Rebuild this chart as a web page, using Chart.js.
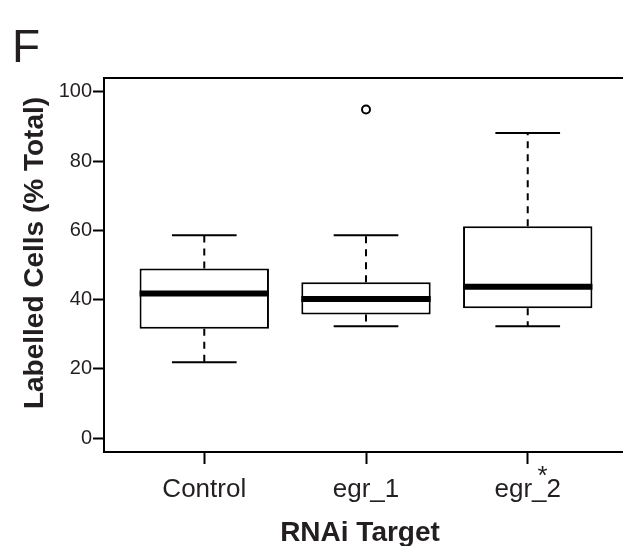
<!DOCTYPE html>
<html>
<head>
<meta charset="utf-8">
<script src="https://cdn.jsdelivr.net/npm/chart.js@4.4.1/dist/chart.umd.min.js"></script>
<style>
html, body { margin: 0; padding: 0; background: #fff; overflow: hidden; }
canvas { display: block; }
</style>
</head>
<body>
<canvas id="chart-1" width="640" height="546"></canvas>
<script>
// values (% labelled cells)
const categories = ['Control', 'egr_1', 'egr_2'];
const whiskerLow = [21.9, 32.3, 32.3];
const q1 = [31.6, 35.7, 37.5];
const medians = [41.8, 40.2, 43.7];
const q3 = [49.0, 45.0, 61.2];
const whiskerHigh = [58.6, 58.6, 88.1];
const outlierGroup = [2];
const outlierValue = [94.9];
const yTicks = [0, 20, 40, 60, 80, 100];
const xTicks = [1, 2, 3];

const FONT = "'Liberation Sans', Arial, Helvetica, sans-serif";
const INK = '#231f20';

const boxHalf = 0.4;
const capHalf = 0.2;

const whiskerData = [];
const capData = [];
const medianData = [];
categories.forEach((c, i) => {
  const x = i + 1;
  whiskerData.push({ x: x, y: q3[i] }, { x: x, y: whiskerHigh[i] }, { x: x, y: null });
  whiskerData.push({ x: x, y: q1[i] }, { x: x, y: whiskerLow[i] }, { x: x, y: null });
  capData.push({ x: x - capHalf, y: whiskerHigh[i] }, { x: x + capHalf, y: whiskerHigh[i] }, { x: x, y: null });
  capData.push({ x: x - capHalf, y: whiskerLow[i] }, { x: x + capHalf, y: whiskerLow[i] }, { x: x, y: null });
  medianData.push({ x: x - boxHalf, y: medians[i] }, { x: x + boxHalf, y: medians[i] }, { x: x, y: null });
});

const frameAndText = {
  id: 'frameAndText',
  afterDraw(chart) {
    const ctx = chart.ctx;
    const a = chart.chartArea;
    ctx.save();
    ctx.strokeStyle = '#000';
    ctx.lineWidth = 2;
    ctx.strokeRect(a.left, a.top, a.right - a.left, a.bottom - a.top);

    ctx.fillStyle = INK;
    ctx.textBaseline = 'alphabetic';

    ctx.font = '46px ' + FONT;
    ctx.textAlign = 'left';
    ctx.fillText('F', 12, 62);

    ctx.font = 'bold 28px ' + FONT;
    ctx.textAlign = 'center';
    ctx.fillText('RNAi Target', 360, 541);

    ctx.save();
    ctx.translate(43, 253);
    ctx.rotate(-Math.PI / 2);
    ctx.fillText('Labelled Cells (% Total)', 0, 0);
    ctx.restore();

    ctx.font = '26px ' + FONT;
    ctx.fillText('*', 542.5, 484);
    ctx.restore();
  }
};

const ctx_1 = document.getElementById('chart-1').getContext('2d');

new Chart(ctx_1, {
  type: 'bar',
  data: {
    datasets: [{
      type: 'bar',
      label: 'IQR',
      data: categories.map((c, i) => ({ x: i + 1, y: [q1[i], q3[i]] })),
      backgroundColor: '#ffffff',
      borderColor: '#000000',
      borderWidth: 2,
      borderSkipped: false,
      categoryPercentage: 0.8,
      barPercentage: 1.0,
      order: 4
    }, {
      type: 'line',
      label: 'whiskers',
      data: whiskerData,
      borderColor: '#000000',
      borderWidth: 2,
      borderDash: [7, 6],
      pointRadius: 0,
      spanGaps: false,
      order: 3
    }, {
      type: 'line',
      label: 'caps',
      data: capData,
      borderColor: '#000000',
      borderWidth: 2,
      pointRadius: 0,
      spanGaps: false,
      order: 2
    }, {
      type: 'line',
      label: 'median',
      data: medianData,
      borderColor: '#000000',
      borderWidth: 6,
      borderCapStyle: 'butt',
      pointRadius: 0,
      spanGaps: false,
      order: 1
    }, {
      type: 'scatter',
      label: 'outliers',
      data: outlierGroup.map((g, i) => ({ x: g, y: outlierValue[i] })),
      pointRadius: 4,
      pointBorderWidth: 2,
      pointBackgroundColor: '#ffffff',
      pointBorderColor: '#000000',
      order: 0
    }]
  },
  options: {
    responsive: false,
    animation: false,
    devicePixelRatio: 1,
    layout: { padding: { top: 78, left: 0, right: 12, bottom: 0 } },
    plugins: {
      legend: { display: false },
      tooltip: { enabled: false }
    },
    scales: {
      x: {
        type: 'linear',
        min: 0.38,
        max: 3.62,
        offset: false,
        afterBuildTicks: (scale) => { scale.ticks = xTicks.map(v => ({ value: v })); },
        afterFit: (scale) => { scale.height = 94; },
        ticks: {
          callback: (value, index) => categories[index],
          font: { family: FONT, size: 26 },
          color: INK,
          padding: 10,
          maxRotation: 0,
          autoSkip: false
        },
        grid: { offset: false, drawOnChartArea: false, tickLength: 12, tickWidth: 2, tickColor: '#000' },
        border: { color: '#000', width: 2 }
      },
      y: {
        min: -4,
        max: 104,
        afterBuildTicks: (scale) => { scale.ticks = yTicks.map(v => ({ value: v })); },
        afterFit: (scale) => { scale.width = 104; },
        ticks: {
          font: { family: FONT, size: 20 },
          color: INK,
          padding: 1
        },
        grid: { drawOnChartArea: false, tickLength: 11, tickWidth: 2, tickColor: '#000' },
        border: { color: '#000', width: 2 }
      }
    }
  },
  plugins: [frameAndText]
});
</script>
</body>
</html>
